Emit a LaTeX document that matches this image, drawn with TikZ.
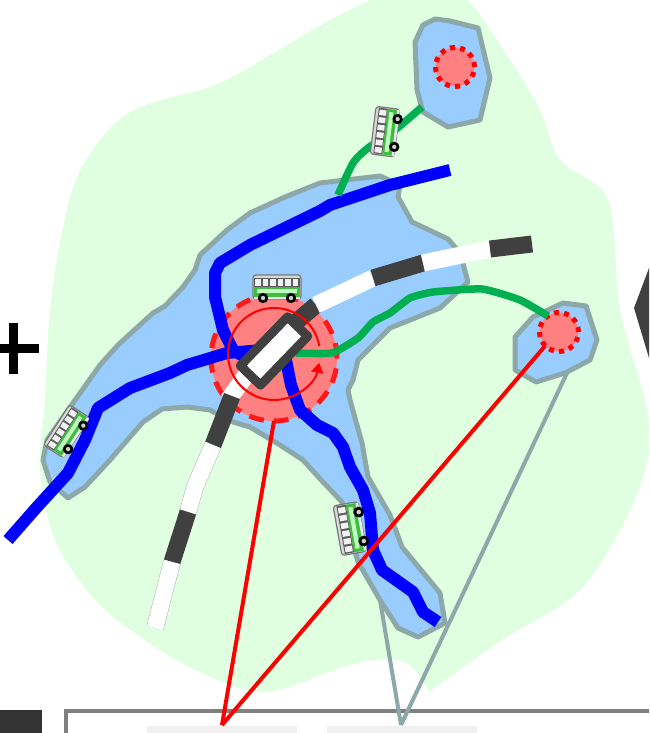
\documentclass[tikz,border=0pt]{standalone}
\usetikzlibrary{arrows.meta}
\definecolor{land}{HTML}{E0FFE0}
\definecolor{water}{HTML}{99CCFF}
\definecolor{shore}{HTML}{8CA8A8}
\definecolor{hubfill}{HTML}{FF8080}
\definecolor{metro}{HTML}{0000FF}
\definecolor{tram}{HTML}{00B050}
\definecolor{rail}{HTML}{404040}
\tikzset{
  lake/.style={fill=water,draw=shore,line width=5pt,line join=round},
  metroline/.style={draw=metro,line width=12pt,line join=round},
  tramline/.style={draw=tram,line width=7.5pt,line join=round},
  raildark/.style={draw=rail,line width=17pt},
  raillight/.style={draw=black!30,line width=.5pt,double=white,double distance=16.5pt,line join=round},
  railplain/.style={draw=white,line width=17pt},
  bighub/.style={circle,fill=hubfill,draw=red!90!white,line width=5pt,dash pattern=on 15pt off 9.7pt,minimum size=126pt,inner sep=0pt,outer sep=0pt},
  smallhub/.style={circle,fill=hubfill,draw=red,line width=5pt,dash pattern=on 5pt off 5.2pt,minimum size=39pt,inner sep=0pt,outer sep=0pt},
  redcall/.style={draw=red,line width=4pt},
  shorecall/.style={draw=shore,line width=4pt},
  pics/coach/.style={code={
    \fill[white!70!gray,draw=rail!70!white,line width=1.2pt,rounded corners=3pt] (-24,-15) -- (24,-15) -- (24,9) -- (-24,9) -- cycle;
    \fill[rail!85!white] (-23,-12) rectangle (23,-3);
    \foreach \i in {-19,-11.5,-4,3.5,11,18.5}{\fill[white!90!gray] (\i-2.7,-11) rectangle (\i+2.7,-4);}
    \fill[green!65!black!75!white] (-23,-3) rectangle (23,8);
    \fill[green!25!white] (-20,-1) rectangle (20,3);
    \fill[white!85!gray] (-23,6.5) rectangle (23,9);
    \foreach \i in {-14,14}{\fill[black] (\i,8) circle[radius=5.2pt];\fill[white!60!gray] (\i,8) circle[radius=2.2pt];}
  }}
}
\begin{document}
\begin{tikzpicture}[x=1pt,y=-1pt]
\useasboundingbox (0,0) rectangle (649,733);
\clip (0,0) rectangle (649,733);
\fill[white] (0,0) rectangle (649,733);
% land
\fill[land] plot[smooth,tension=0.55] coordinates {(429,692) (410,665) (382,659) (340,668) (265,692) (200,672) (145,640) (95,600) (55,540) (40,470) (45,400) (50,310) (63,227) (83,165) (130,112) (215,85) (270,55) (330,20) (385,-5) (440,-15) (468,0) (510,60) (540,110) (560,160) (608,200) (620,310) (645,400) (649,450) (630,510) (580,590) (502,640) (429,692)};
% outside shapes
\fill[black] (9,323) rectangle (18,374);
\fill[black] (0,344) rectangle (39,353);
\fill[rail] (649,268) -- (634,308) -- (649,358) -- cycle;
\fill[black!80] (0,710) rectangle (42,733);
\draw[gray,line width=3.5pt] (66,735) -- (66,711) -- (651,711);
\fill[black!6] (147,726) rectangle (297,733);
\fill[black!6] (327,726) rectangle (477,733);
% callout anchors
\coordinate (pa) at (222,725);
\coordinate (pb) at (401,725);
\coordinate (riverend) at (380,600);
\coordinate (lakeb) at (567,373);
\draw[shorecall] (pb) -- (riverend);
\draw[shorecall] (pb) -- (lakeb);
% lakes
\draw[lake] (43,460) -- (47,440) -- (73,403) -- (100,365) -- (118,345) -- (153,313) -- (165,306) -- (183,287) -- (195,270) -- (200,255) -- (227,230) -- (250,213) -- (285,197) -- (320,183) -- (380,176) -- (400,185) -- (398,197) -- (412,222) -- (448,239) -- (460,253) -- (468,282) -- (440,308) -- (390,328) -- (358,360) -- (353,380) -- (348,390) -- (350,400) -- (362,443) -- (368,477) -- (390,515) -- (402,547) -- (440,593) -- (445,623) -- (418,637) -- (398,628) -- (380,600) -- (358,562) -- (342,502) -- (323,482) -- (303,460) -- (280,445) -- (250,427) -- (233,422) -- (210,410) -- (187,407) -- (162,409) -- (143,422) -- (110,460) -- (85,487) -- (68,498) -- (50,482) -- cycle;
\draw[lake] (415,42) -- (423,25) -- (435,19) -- (450,21) -- (478,28) -- (490,78) -- (480,120) -- (448,127) -- (423,112) -- (417,90) -- cycle;
\draw[lake] (515,337) -- (533,317) -- (563,303) -- (586,306) -- (597,340) -- (590,360) -- (565,373) -- (536,382) -- (515,370) -- cycle;
% hubs
\node[bighub] (hub) at (274,358) {};
\node[smallhub] (north) at (455,67) {};
\node[smallhub] (east) at (559,332) {};
% metro
\draw[metroline] (450,170) -- (390,185) -- (330,205) -- (320,211) -- (250,245) -- (220,263) -- (215,273) -- (215,297) -- (223,330) -- (233,350) -- (258,365);
\draw[metroline] (8,540) -- (37,507) -- (68,473) -- (85,440) -- (98,408) -- (130,388) -- (170,373) -- (187,365) -- (227,353) -- (262,350);
\draw[metroline] (284,350) -- (291,385) -- (300,410) -- (317,425) -- (333,433) -- (343,447) -- (350,467) -- (363,490) -- (370,513) -- (373,550) -- (382,570) -- (413,592) -- (423,612) -- (438,622);
% trams
\draw[tramline] plot[smooth,tension=0.3] coordinates {(296,353) (332,353) (358,338) (373,322) (390,313) (410,298) (433,292) (482,289) (520,300) (548,316)};
\draw[tramline] plot[smooth,tension=0.4] coordinates {(338,195) (353,163) (368,148) (395,130) (422,107)};
% rail
\draw[raildark] (296,322) -- (316,305);
\draw[railplain] (316,305) -- (373,278);
\draw[raildark] (373,278) -- (423,263);
\draw[railplain] (423,263) -- (490,249);
\draw[raildark] (490,249) -- (532,244);
\draw[railplain] (250,370) -- (228,400);
\draw[raildark] (232,396) -- (213,445);
\draw[raillight] (213,445) -- (195,487) -- (188,512);
\draw[raildark] (188,512) -- (172,562);
\draw[raillight] (172,562) -- (155,628);
% ring
\draw[red,line width=2pt,-{Triangle[length=10pt,width=12pt]}] (319.3,346) arc[start angle=10,end angle=349,radius=46pt];
% station
\node[draw=rail,fill=white,line width=9pt,line join=round,minimum width=68pt,minimum height=28pt,inner sep=0pt,outer sep=0pt,rotate=46] (station) at (274,351) {};
% coaches
\pic[rotate=0] at (277,290) {coach};
\pic[rotate=83] at (388,132) {coach};
\pic[rotate=100,scale=1.05] at (353,528) {coach};
\pic[rotate=57] at (69,433) {coach};
% red callouts
\draw[redcall] (pa) -- (hub.south);
\draw[redcall] (pa) -- (east.south west);
\end{tikzpicture}
\end{document}
